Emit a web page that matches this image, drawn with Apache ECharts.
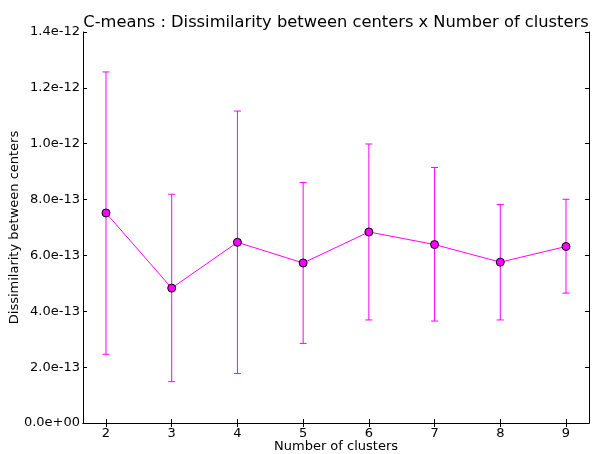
<!DOCTYPE html>
<html>
<head>
<meta charset="utf-8">
<script src="https://cdn.jsdelivr.net/npm/echarts@6/dist/echarts.min.js"></script>
<style>
  html, body { margin: 0; padding: 0; background: #fff; }
  #chart { width: 592px; height: 454px; }
</style>
</head>
<body>
<div id="chart"></div>
<script>
// data
const clusters = [2, 3, 4, 5, 6, 7, 8, 9];
const meanDiss = [7.52e-13, 4.83e-13, 6.47e-13, 5.73e-13, 6.84e-13, 6.39e-13, 5.76e-13, 6.32e-13];
const lowDiss = [2.46e-13, 1.48e-13, 1.77e-13, 2.85e-13, 3.69e-13, 3.65e-13, 3.69e-13, 4.65e-13];
const highDiss = [12.57e-13, 8.19e-13, 11.17e-13, 8.61e-13, 9.99e-13, 9.15e-13, 7.82e-13, 8.01e-13];

const MAGENTA = '#ff00ff';
const FONT = 'DejaVu Sans';

// 2.0e-13 style labels, like matplotlib
function sciLabel(v) {
  return v.toExponential(1).replace(/e([+-])(\d+)$/, function (m, sign, d) {
    return 'e' + sign + (d.length < 2 ? '0' + d : d);
  });
}

function errorBar(params, api) {
  const x = api.value(0);
  const pLo = api.coord([x, api.value(1)]);
  const pHi = api.coord([x, api.value(2)]);
  const w = 3.5;
  const st = { stroke: MAGENTA, lineWidth: 1 };
  return {
    type: 'group',
    children: [
      { type: 'line', shape: { x1: pHi[0], y1: pHi[1], x2: pLo[0], y2: pLo[1] }, style: st },
      { type: 'line', shape: { x1: pHi[0] - w, y1: pHi[1], x2: pHi[0] + w, y2: pHi[1] }, style: st },
      { type: 'line', shape: { x1: pLo[0] - w, y1: pLo[1], x2: pLo[0] + w, y2: pLo[1] }, style: st }
    ]
  };
}

const chart = echarts.init(document.getElementById('chart'));

const axisLine = { show: true, lineStyle: { color: '#000', width: 1 } };
const tickIn = { show: true, inside: true, length: 4, lineStyle: { color: '#000', width: 1 } };

chart.setOption({
  animation: false,
  backgroundColor: '#fff',
  title: {
    text: 'C-means : Dissimilarity between centers x Number of clusters',
    left: 331,
    top: 10,
    textAlign: 'center',
    textStyle: { fontFamily: FONT, fontSize: 16.3, fontWeight: 'normal', color: '#000' }
  },
  grid: { left: 83, right: 3, top: 32, bottom: 31, containLabel: false, outerBoundsMode: 'none' },
  xAxis: [
    {
      type: 'value',
      min: 1.65,
      max: 9.35,
      name: 'Number of clusters',
      nameLocation: 'middle',
      nameGap: 17,
      nameMoveOverlap: false,
      nameTextStyle: { fontFamily: FONT, fontSize: 13, color: '#000' },
      axisLine: axisLine,
      axisTick: Object.assign({ customValues: clusters }, tickIn),
      axisLabel: {
        customValues: clusters,
        margin: 4,
        fontFamily: FONT, fontSize: 13, color: '#000'
      },
      splitLine: { show: false }
    },
    {
      type: 'value',
      position: 'top',
      min: 1.65,
      max: 9.35,
      axisLine: axisLine,
      axisTick: Object.assign({ customValues: clusters }, tickIn),
      axisLabel: { show: false },
      splitLine: { show: false }
    }
  ],
  yAxis: [
    {
      type: 'value',
      min: 0,
      max: 1.4e-12,
      interval: 2e-13,
      name: 'Dissimilarity between centers',
      nameLocation: 'middle',
      nameGap: 62,
      nameMoveOverlap: false,
      nameTextStyle: { fontFamily: FONT, fontSize: 13, color: '#000' },
      axisLine: axisLine,
      axisTick: tickIn,
      axisLabel: {
        margin: 3,
        fontFamily: FONT, fontSize: 13, color: '#000',
        formatter: sciLabel
      },
      splitLine: { show: false }
    },
    {
      type: 'value',
      position: 'right',
      min: 0,
      max: 1.4e-12,
      interval: 2e-13,
      axisLine: axisLine,
      axisTick: tickIn,
      axisLabel: { show: false },
      splitLine: { show: false }
    }
  ],
  series: [
    {
      type: 'custom',
      renderItem: errorBar,
      encode: { x: 0, y: [1, 2] },
      data: clusters.map((c, i) => [c, lowDiss[i], highDiss[i]]),
      z: 1,
      silent: true
    },
    {
      type: 'line',
      data: clusters.map((c, i) => [c, meanDiss[i]]),
      symbol: 'circle',
      symbolSize: 8,
      lineStyle: { color: MAGENTA, width: 1 },
      itemStyle: { color: MAGENTA, borderColor: '#000', borderWidth: 1 },
      z: 2
    }
  ]
});
</script>
</body>
</html>
